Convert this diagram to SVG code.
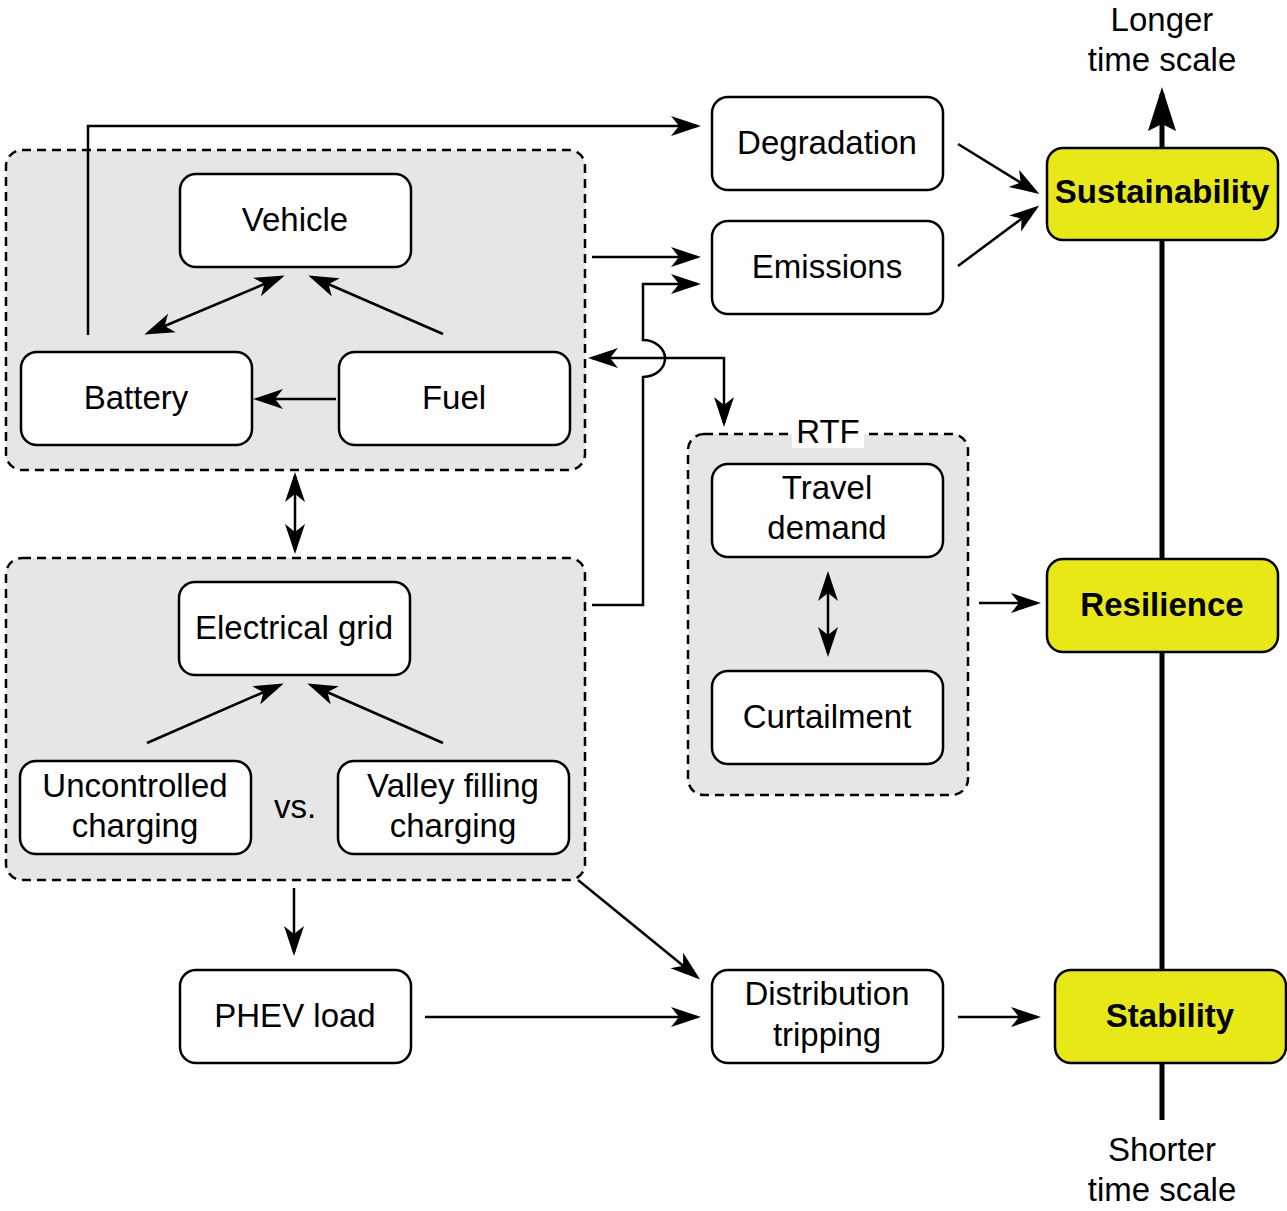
<svg xmlns="http://www.w3.org/2000/svg" width="1287" height="1211" viewBox="0 0 1287 1211">
<defs>
<style>
.grp{fill:#e6e6e6;stroke:#000;stroke-width:2.5;stroke-dasharray:9 6}
.box{fill:#fff;stroke:#000;stroke-width:2.5}
.ybox{fill:#e8e816;stroke:#000;stroke-width:2.5}
.t{font-family:"Liberation Sans",Arial,sans-serif;font-size:33px;text-anchor:middle;fill:#000}
.b{font-weight:bold}
.c{fill:none;stroke:#000;stroke-width:2.5}
.ce{marker-end:url(#ah)}
.cb{marker-start:url(#ah);marker-end:url(#ah)}
</style>
<marker id="ah" markerUnits="userSpaceOnUse" markerWidth="32" markerHeight="22" viewBox="0 0 32 22" refX="27" refY="11" orient="auto-start-reverse">
<path d="M31,11 L1,1 L9,11 L1,21 Z" fill="#000"/>
</marker>
<marker id="big" markerUnits="userSpaceOnUse" markerWidth="46" markerHeight="30" viewBox="0 0 46 30" refX="38" refY="15" orient="auto">
<path d="M45,15 L1,1 L8,15 L1,29 Z" fill="#000"/>
</marker>
</defs>

<g id="axis">
<line x1="1162" y1="1120" x2="1162" y2="94" stroke="#000" stroke-width="5" marker-end="url(#big)"/>
<text class="t" x="1162" y="31">Longer</text>
<text class="t" x="1162" y="71">time scale</text>
<text class="t" x="1162" y="1161">Shorter</text>
<text class="t" x="1162" y="1201">time scale</text>
</g>

<g id="group-vehicle"><rect class="grp" x="6" y="150" width="579" height="320" rx="16"/></g>
<g id="group-grid"><rect class="grp" x="6" y="558" width="579" height="322" rx="16"/></g>
<g id="group-rtf">
<rect class="grp" x="688" y="434" width="280" height="361" rx="16"/>
<rect x="792" y="418" width="72" height="30" fill="#fff"/>
<text class="t" x="828" y="443">RTF</text>
</g>

<g id="vehicle"><rect class="box" x="180" y="174" width="231" height="93" rx="16"/><text class="t" x="295" y="231">Vehicle</text></g>
<g id="battery"><rect class="box" x="21" y="352" width="231" height="93" rx="16"/><text class="t" x="136" y="409">Battery</text></g>
<g id="fuel"><rect class="box" x="339" y="352" width="231" height="93" rx="16"/><text class="t" x="454" y="409">Fuel</text></g>
<g id="electrical-grid"><rect class="box" x="179" y="582" width="231" height="93" rx="16"/><text class="t" x="294" y="639">Electrical grid</text></g>
<g id="uncontrolled"><rect class="box" x="20" y="761" width="231" height="93" rx="16"/><text class="t" x="135" y="797">Uncontrolled</text><text class="t" x="135" y="837">charging</text></g>
<g id="vs"><text class="t" x="295" y="818">vs.</text></g>
<g id="valley"><rect class="box" x="338" y="761" width="231" height="93" rx="16"/><text class="t" x="453" y="797">Valley filling</text><text class="t" x="453" y="837">charging</text></g>
<g id="phev"><rect class="box" x="180" y="970" width="231" height="93" rx="16"/><text class="t" x="295" y="1027">PHEV load</text></g>
<g id="degradation"><rect class="box" x="712" y="97" width="231" height="93" rx="16"/><text class="t" x="827" y="154">Degradation</text></g>
<g id="emissions"><rect class="box" x="712" y="221" width="231" height="93" rx="16"/><text class="t" x="827" y="278">Emissions</text></g>
<g id="travel"><rect class="box" x="712" y="464" width="231" height="93" rx="16"/><text class="t" x="827" y="499">Travel</text><text class="t" x="827" y="539">demand</text></g>
<g id="curtailment"><rect class="box" x="712" y="671" width="231" height="93" rx="16"/><text class="t" x="827" y="728">Curtailment</text></g>
<g id="distribution"><rect class="box" x="712" y="970" width="231" height="93" rx="16"/><text class="t" x="827" y="1005">Distribution</text><text class="t" x="827" y="1046">tripping</text></g>
<g id="sustainability"><rect class="ybox" x="1047" y="148" width="231" height="92" rx="16"/><text class="t b" x="1162" y="203">Sustainability</text></g>
<g id="resilience"><rect class="ybox" x="1047" y="559" width="231" height="93" rx="16"/><text class="t b" x="1162" y="616">Resilience</text></g>
<g id="stability"><rect class="ybox" x="1055" y="970" width="231" height="93" rx="16"/><text class="t b" x="1170" y="1027">Stability</text></g>

<g id="connectors">
<path class="c ce" d="M88,335 V126 H697"/>
<path class="c ce" d="M592,257 H697"/>
<path class="c ce" d="M592,605 H643 V377 A22,18.5 0 0 0 643,340 V284 H697"/>
<path class="c cb" d="M592,358 H724 V423"/>
<path class="c cb" d="M148,333 L281,277"/>
<path class="c ce" d="M443,334 L312,277"/>
<path class="c ce" d="M336,399 H257"/>
<path class="c cb" d="M295,476 V550"/>
<path class="c ce" d="M147,743 L280,685"/>
<path class="c ce" d="M443,743 L311,685"/>
<path class="c ce" d="M294,888 V952"/>
<path class="c ce" d="M578,880 L697,977"/>
<path class="c ce" d="M425,1017 H697"/>
<path class="c ce" d="M958,1017 H1037"/>
<path class="c ce" d="M958,144 L1036,192"/>
<path class="c ce" d="M958,266 L1036,208"/>
<path class="c ce" d="M979,603 H1037"/>
<path class="c cb" d="M828,575 V653"/>
</g>
</svg>
